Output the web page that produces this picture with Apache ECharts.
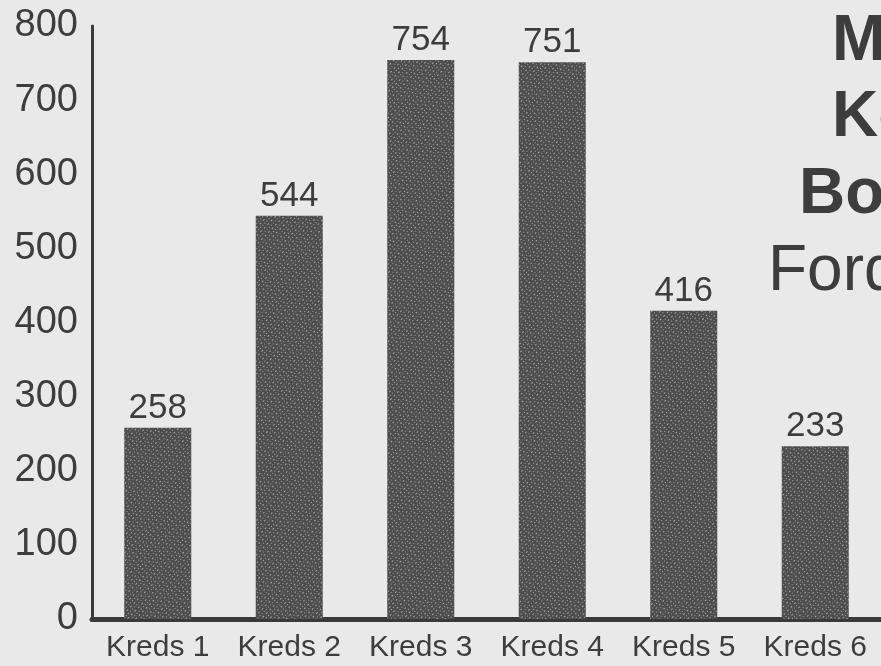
<!DOCTYPE html>
<html lang="da">
<head>
    <meta charset="utf-8">
    <title>Kreds</title>
    <script src="https://cdn.jsdelivr.net/npm/echarts@6/dist/echarts.min.js"></script>
</head>
<body style="margin:0;background:#e9e9e9;">
    <div id="main" style="width:881px;height:666px;"></div>
    <script type="text/javascript">
    var kredse = ['Kreds 1', 'Kreds 2', 'Kreds 3', 'Kreds 4', 'Kreds 5', 'Kreds 6'];
    var antal = [258, 544, 754, 751, 416, 233];
    var titelLinjer = ['Medlemmer', 'Kobenhavns', 'Boligforening', 'Fordelt på kredse'];

    var tekst = '#3d3d3d';
    var myChart = echarts.init(document.getElementById('main'));

    myChart.setOption({
        backgroundColor: '#e9e9e9',
        animation: false,
        grid: { left: 92, right: -4, top: 26, bottom: 47 },
        xAxis: {
            type: 'category',
            data: kredse,
            axisLine: { lineStyle: { color: '#3a3a3a', width: 5 } },
            axisTick: { show: false },
            axisLabel: { interval: 0, color: tekst, fontSize: 30, fontFamily: 'Liberation Sans', margin: 14 }
        },
        yAxis: {
            type: 'value',
            min: 0, max: 800, interval: 100,
            axisLine: { show: true, lineStyle: { color: '#3a3a3a', width: 3 } },
            axisTick: { show: false },
            splitLine: { show: false },
            axisLabel: { color: tekst, fontSize: 38, fontFamily: 'Liberation Sans', margin: 14 }
        },
        graphic: titelLinjer.map(function (t, i) {
            var xs = [832, 832, 799, 768];
            var ys = [62, 138, 215, 292];
            return {
                type: 'text', left: xs[i], top: ys[i] - 52,
                style: {
                    text: t, fill: tekst,
                    font: (i < 3 ? 'bold ' : '') + '64px "Liberation Sans"'
                }
            };
        }),
        series: [{
            type: 'bar',
            data: antal,
            barWidth: 67,
            itemStyle: {
                color: '#4d4d4d',
                decal: {
                    symbol: 'rect',
                    color: 'rgba(225,225,225,0.6)',
                    dashArrayX: [[1, 2], [2, 3]],
                    dashArrayY: [1, 2],
                    rotation: -0.8
                }
            },
            label: {
                show: true, position: 'top', distance: 2,
                color: tekst, fontSize: 35, fontFamily: 'Liberation Sans'
            }
        }]
    });
    </script>
</body>
</html>
